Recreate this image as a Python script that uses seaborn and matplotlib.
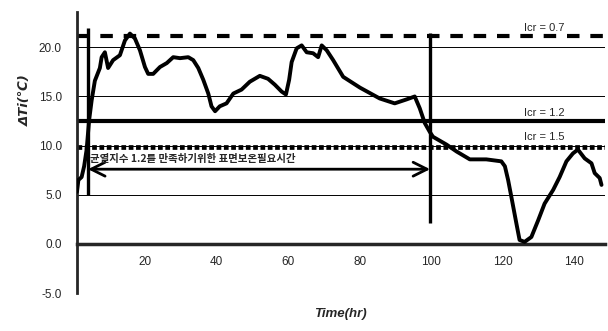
import numpy as np
import pandas as pd
import seaborn as sns
import matplotlib.pyplot as plt

# values
hours = [1.0, 1.4, 2.3, 3.0, 3.7, 4.4, 5.1, 6.0, 7.4, 7.9, 8.8, 9.7, 11.1, 13.0, 14.4,
         15.8, 17.2, 18.6, 20.0, 20.9, 22.3, 24.2, 26.1, 27.9, 29.8, 32.1, 33.5, 34.9,
         36.3, 37.7, 38.6, 39.6, 40.9, 42.8, 44.7, 47.0, 49.3, 52.1, 54.4, 56.3, 58.2,
         59.4, 60.3, 61.0, 62.4, 63.8, 65.2, 67.0, 68.4, 69.4, 70.8, 72.6, 75.4, 80.1,
         85.6, 89.8, 93.1, 95.4, 96.8, 98.2, 99.6, 100.5, 104.3, 107.1, 110.8, 115.4,
         119.6, 120.6, 121.5, 122.4, 123.8, 124.7, 126.1, 128.0, 129.9, 131.7, 134.1,
         135.9, 137.8, 139.6, 141.0, 142.9, 144.8, 145.7, 147.1, 147.6]
delta_t = [5.3, 6.5, 6.8, 7.9, 9.6, 12.6, 14.6, 16.6, 17.9, 19.0, 19.5, 17.9, 18.7, 19.2,
           20.7, 21.4, 20.9, 19.7, 18.0, 17.3, 17.3, 18.0, 18.4, 19.0, 18.9, 19.0, 18.7,
           17.9, 16.7, 15.3, 14.0, 13.5, 14.0, 14.3, 15.3, 15.7, 16.5, 17.1, 16.8, 16.2,
           15.5, 15.2, 16.7, 18.5, 19.9, 20.2, 19.5, 19.4, 19.0, 20.2, 19.7, 18.7, 17.0,
           15.9, 14.8, 14.3, 14.7, 15.0, 13.8, 12.3, 11.4, 10.9, 10.1, 9.4, 8.6, 8.6,
           8.4, 7.9, 6.5, 4.8, 2.1, 0.4, 0.2, 0.7, 2.4, 4.1, 5.5, 6.8, 8.4, 9.2, 9.6,
           8.7, 8.2, 7.2, 6.7, 6.0]

icr_labels = ['Icr = 0.7', 'Icr = 1.2', 'Icr = 1.5']
icr_levels = [21.2, 12.5, 9.9]
start_hr = 4.1
end_hr = 99.7
x_ticks = [20, 40, 60, 80, 100, 120, 140]
y_ticks = [-5, 0, 5, 10, 15, 20]
note = '균열지수 1.2를 만족하기위한 표면보온필요시간'

df = pd.DataFrame({'hr': hours, 'dT': delta_t})

sns.set_style('white')
plt.rcParams['font.family'] = ['Liberation Sans', 'Noto Sans CJK KR', 'DejaVu Sans']

fig = plt.figure(figsize=(6.08, 3.31), dpi=100)
ax = fig.add_axes([0.1266, 0.1148, 0.868, 0.849])

# grid lines
for yv in [-5, 5, 10, 15, 20]:
    ax.axhline(yv, color='black', lw=0.7, zorder=1)

# criteria lines
ax.axhline(icr_levels[0], color='black', lw=3, linestyle=(0, (3, 2.6)), zorder=2)
ax.axhline(icr_levels[1], color='black', lw=3, zorder=2)
ax.axhline(icr_levels[2], color='black', lw=3.4, linestyle=(0, (1, 0.55)), zorder=2)

sns.lineplot(data=df, x='hr', y='dT', color='black', lw=2.8, ax=ax, zorder=4)

# vertical markers
ax.vlines(start_hr, 5.0, 22.0, color='black', lw=2.4, zorder=3)
ax.vlines(end_hr, 2.1, 21.5, color='black', lw=2.4, zorder=3)

ax.annotate('', xy=(start_hr, 7.6), xytext=(end_hr, 7.6),
            arrowprops=dict(arrowstyle='<->,head_length=1.0,head_width=0.5',
                            color='black', lw=2, shrinkA=0, shrinkB=0))
ax.text(start_hr + 0.6, 8.6, note, fontsize=7.5, fontweight='bold', va='center', ha='left',
        family=['Noto Sans CJK KR', 'DejaVu Sans'])

for lab, lev, dy in zip(icr_labels, icr_levels, [0.8, 0.8, 1.0]):
    ax.text(131.5, lev + dy, lab, fontsize=8, ha='center', va='center')

ax.set_xlim(1.0, 148.5)
ax.set_ylim(-5, 23.6)

ax.spines['top'].set_visible(False)
ax.spines['right'].set_visible(False)
ax.spines['left'].set_linewidth(2)
ax.spines['bottom'].set_position(('data', 0))
ax.spines['bottom'].set_linewidth(2.5)

ax.set_xticks(x_ticks)
ax.set_xticklabels([str(v) for v in x_ticks], fontsize=8.5)
ax.set_yticks(y_ticks)
ax.set_yticklabels(['%.1f' % v for v in y_ticks], fontsize=8.5)
ax.tick_params(axis='x', direction='in', length=3, width=1.5, pad=9)
ax.tick_params(axis='y', direction='in', length=3, width=1.5, pad=11)

ax.set_xlabel('Time(hr)', fontsize=9.5, fontstyle='italic', fontweight='bold')
ax.xaxis.set_label_coords(0.5, -0.055)
ax.set_ylabel('ΔTi(℃)', fontsize=9.5, fontstyle='italic', fontweight='bold',
              family=['DejaVu Sans'])
ax.yaxis.set_label_coords(-0.085, 0.687)

fig.savefig('out.png', dpi=100)
